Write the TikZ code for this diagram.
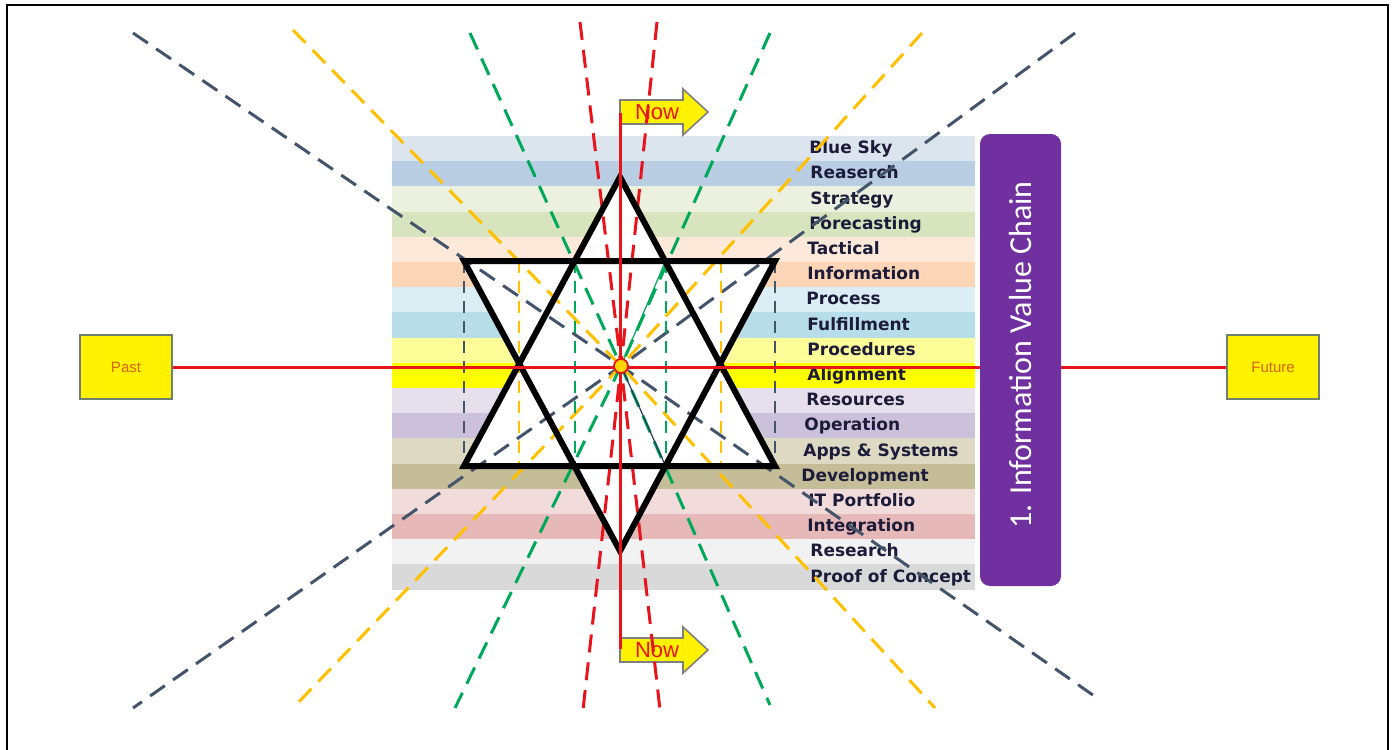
\documentclass[tikz,border=0pt]{standalone}
\usepackage{fontspec}
\setmainfont{DejaVu Sans}
\newfontfamily\lblfont{DejaVu Sans}
\newfontfamily\calfont{Carlito}
\newfontfamily\arfont{Liberation Sans}
\definecolor{b1}{HTML}{DCE4EE}
\definecolor{b2}{HTML}{B9CDE3}
\definecolor{b3}{HTML}{EBF1DE}
\definecolor{b4}{HTML}{D7E4BD}
\definecolor{b5}{HTML}{FDE9D9}
\definecolor{b6}{HTML}{FBD5B5}
\definecolor{b7}{HTML}{DBEEF4}
\definecolor{b8}{HTML}{B7DEE8}
\definecolor{b9}{HTML}{FFFF99}
\definecolor{b10}{HTML}{FFFF00}
\definecolor{b11}{HTML}{E5E0EC}
\definecolor{b12}{HTML}{CCC1DA}
\definecolor{b13}{HTML}{DDD9C3}
\definecolor{b14}{HTML}{C4BD97}
\definecolor{b15}{HTML}{F2DCDB}
\definecolor{b16}{HTML}{E6B9B8}
\definecolor{b17}{HTML}{F2F2F2}
\definecolor{b18}{HTML}{D9D9D9}
\definecolor{lbltext}{HTML}{1C1C3A}
\definecolor{slate}{HTML}{44546A}
\definecolor{gold}{HTML}{FFC000}
\definecolor{grn}{HTML}{00A859}
\definecolor{rd}{HTML}{E8141B}
\definecolor{navy}{HTML}{1F3864}
\definecolor{purp}{HTML}{7030A0}
\definecolor{boxgray}{HTML}{6F7F70}
\definecolor{pastorange}{HTML}{D8650C}
\definecolor{arrowgray}{HTML}{7F7F7F}
\definecolor{dotyellow}{HTML}{FFD700}
\begin{document}
\begin{tikzpicture}[x=0.5pt,y=-0.5pt,
  dl/.style={line width=1.5pt, dash pattern=on 9pt off 5pt},
  vl/.style={line width=1pt, dash pattern=on 6pt off 4pt},
  lbl/.style={anchor=west, font=\lblfont\bfseries\fontsize{8.5}{10}\selectfont, text=lbltext, inner sep=0pt, text height=6.3pt, text depth=1.7pt},
  tbox/.style={draw=boxgray, fill=yellow, line width=0.7pt, minimum width=46pt, minimum height=32pt, font=\arfont\fontsize{7.5}{9}\selectfont, text=pastorange},
  nowarrow/.style={fill=yellow, draw=arrowgray, line width=0.8pt},
  nowtxt/.style={font=\arfont\fontsize{11}{13}\selectfont, text=rd, inner sep=0pt},
  starline/.style={line width=3pt, line join=miter},
  redline/.style={draw=rd, line width=1.5pt}
]
\useasboundingbox (0,0) rectangle (1396,749);
\fill[white] (0,0) rectangle (1396,749);

% bands
\foreach \c [count=\i from 0] in {b1,b2,b3,b4,b5,b6,b7,b8,b9,b10,b11,b12,b13,b14,b15,b16,b17,b18}
  \fill[\c] (392,{136+25.2*\i}) rectangle (975,{136+25.2*(\i+1)});

% labels
\foreach \x/\t [count=\i from 0] in {809/Blue Sky, 810/Reaserch, 810/Strategy, 809/Forecasting, 807/Tactical, 807/Information, 806/Process, 807/Fulfillment, 807/Procedures, 807/Alignment, 806/Resources, 804/Operation, 803/Apps \& Systems, 801/Development, 808/IT Portfolio, 807/Integration, 810/Research, 810/Proof of Concept}
  \node[lbl] (lbl\i) at (\x,{149+25.2*\i}) {\t};

% star geometry
\coordinate (C) at (621,366);
\coordinate (ua) at (620,177);
\coordinate (ul) at (464,466);
\coordinate (ur) at (775,466);
\coordinate (dl) at (464,261);
\coordinate (dr) at (775,261);
\coordinate (da) at (620,551);
\fill[white] (ua) -- (ul) -- (ur) -- cycle;
\fill[white] (dl) -- (dr) -- (da) -- cycle;

% Now arrows
\filldraw[nowarrow] (620,100) -- (683,100) -- (683,89) -- (708,112) -- (683,135) -- (683,124) -- (620,124) -- cycle;
\node[nowtxt] (nowtop) at (657,112) {Now};
\filldraw[nowarrow] (620,638) -- (683,638) -- (683,627) -- (708,650) -- (683,673) -- (683,662) -- (620,662) -- cycle;
\node[nowtxt] (nowbot) at (657,650) {Now};

% radiating dashed lines
\draw[dl, slate] (133,33) -- (C) -- (1100,700);
\draw[dl, slate] (1075,33) -- (C) -- (133,708);
\draw[dl, gold] (293,30) -- (C) -- (935,708);
\draw[dl, gold] (922,33) -- (C) -- (293,708);
\draw[dl, grn] (470,33) -- (C) -- (770,705);
\draw[dl, grn] (770,33) -- (C) -- (455,708);
\draw[dl, rd] (580,22) -- (C) -- (660,710);
\draw[dl, rd] (657,22) -- (C) -- (583,710);

% vertical dashed lines
\draw[vl, slate] (464,261) -- (464,466);
\draw[vl, slate] (775,261) -- (775,466);
\draw[vl, gold] (519,261) -- (519,466);
\draw[vl, gold] (721,261) -- (721,466);
\draw[vl, grn] (574.5,261) -- (574.5,466);
\draw[vl, grn] (665.5,261) -- (665.5,466);

% thin solid lines from centre
\draw[grn, line width=0.6pt] (C) -- (665.5,261);
\draw[navy, line width=0.6pt] (C) -- (665.5,466);

% star outline
\draw[starline] (ua) -- (ul) -- (ur) -- cycle;
\draw[starline] (dl) -- (dr) -- (da) -- cycle;

% Past / Future
\node[tbox] (past) at (126,367) {Past};
\node[tbox] (future) at (1273,367) {Future};
\draw[redline] (past.east) -- (future.west);

% vertical red line
\coordinate (vtop) at (620,113);
\coordinate (vbot) at (620,649);
\draw[redline] (vtop) -- (vbot);

% centre dot
\node[circle, fill=dotyellow, draw=rd, line width=0.9pt, minimum size=7pt, inner sep=0pt] (ctr) at (C) {};

% purple box
\node[fill=purp, rounded corners=5pt, rotate=90, minimum width=226pt, minimum height=40.5pt, inner sep=0pt, text=white, font=\calfont\fontsize{16}{18}\selectfont] (ivc) at (1020.5,360) {\hspace*{5pt}1. Information Value Chain};

% frame
\draw[line width=1pt] (7,760) -- (7,5) -- (1388,5) -- (1388,760);
\end{tikzpicture}
\end{document}
